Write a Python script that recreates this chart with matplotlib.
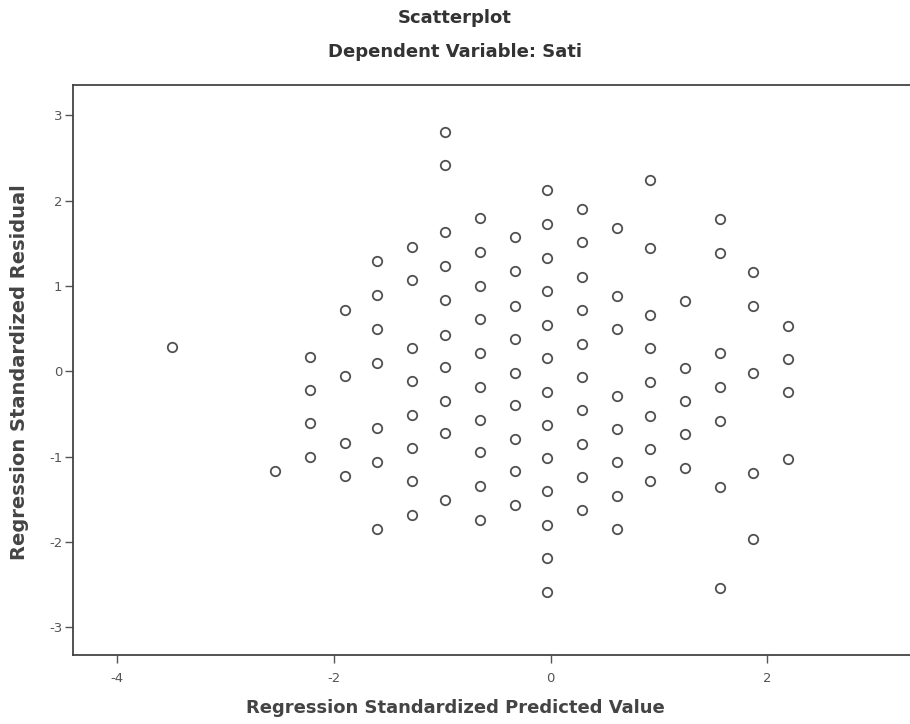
import numpy as np
import matplotlib.pyplot as plt

plt.rcParams['font.family'] = ['DejaVu Sans']
plt.rcParams['axes.unicode_minus'] = False

# predicted value of each column of points, and the residuals sitting on it
pred_values = [-3.49, -2.54, -2.22, -1.90, -1.60, -1.28, -0.97, -0.65, -0.33,
               -0.03, 0.29, 0.61, 0.92, 1.24, 1.56, 1.87, 2.19]
residuals = [
    [0.28],
    [-1.17],
    [0.17, -0.22, -0.61, -1.00],
    [0.72, -0.06, -0.84, -1.23],
    [1.29, 0.89, 0.50, 0.10, -0.67, -1.06, -1.85],
    [1.46, 1.07, 0.27, -0.12, -0.51, -0.90, -1.29, -1.68],
    [2.81, 2.42, 1.63, 1.23, 0.83, 0.43, 0.05, -0.35, -0.73, -1.51],
    [1.80, 1.40, 1.00, 0.61, 0.21, -0.18, -0.57, -0.95, -1.35, -1.74],
    [1.57, 1.17, 0.77, 0.38, -0.02, -0.40, -0.79, -1.17, -1.57],
    [2.12, 1.73, 1.33, 0.94, 0.54, 0.15, -0.24, -0.63, -1.02, -1.40, -1.80, -2.19, -2.59],
    [1.90, 1.51, 1.11, 0.72, 0.32, -0.07, -0.46, -0.85, -1.24, -1.63],
    [1.68, 0.88, 0.49, -0.29, -0.68, -1.06, -1.46, -1.85],
    [2.24, 1.45, 0.66, 0.27, -0.13, -0.52, -0.91, -1.29],
    [0.82, 0.04, -0.35, -0.74, -1.13],
    [1.79, 1.39, 0.21, -0.18, -0.58, -1.36, -2.54],
    [1.16, 0.76, -0.02, -1.19, -1.97],
    [0.53, 0.14, -0.24, -1.03],
]
x_ticks = [-4, -2, 0, 2]
y_ticks = [-3, -2, -1, 0, 1, 2, 3]

xs = np.concatenate([[p] * len(r) for p, r in zip(pred_values, residuals)])
ys = np.concatenate(residuals)

fig = plt.figure(figsize=(9.1, 7.24), dpi=100)
ax = fig.add_axes([0.080, 0.095, 0.925, 0.788])

ax.plot(xs, ys, linestyle='none', marker='o', markersize=6.8,
        markerfacecolor='none', markeredgecolor='#505050', markeredgewidth=1.3)

ax.set_xlim(-4.41, 3.36)
ax.set_ylim(-3.33, 3.36)
ax.set_xticks(x_ticks)
ax.set_yticks(y_ticks)
ax.tick_params(colors='#555555', labelsize=9.5, length=6, width=1)
ax.tick_params(axis='y', pad=1.5)
ax.tick_params(axis='x', pad=6)
for s in ax.spines.values():
    s.set_color('#444444')
    s.set_linewidth(1.3)

fig.text(0.5, 0.975, 'Scatterplot', ha='center', va='center',
         fontsize=13, fontweight='bold', color='#333333')
fig.text(0.5, 0.928, 'Dependent Variable: Sati', ha='center', va='center',
         fontsize=13, fontweight='bold', color='#333333')
fig.text(0.5, 0.022, 'Regression Standardized Predicted Value', ha='center',
         va='center', fontsize=13, fontweight='bold', color='#444444')
fig.text(0.021, 0.486, 'Regression Standardized Residual', ha='center',
         va='center', rotation=90, fontsize=14, fontweight='bold', color='#444444')

fig.savefig('out.png', dpi=100)
